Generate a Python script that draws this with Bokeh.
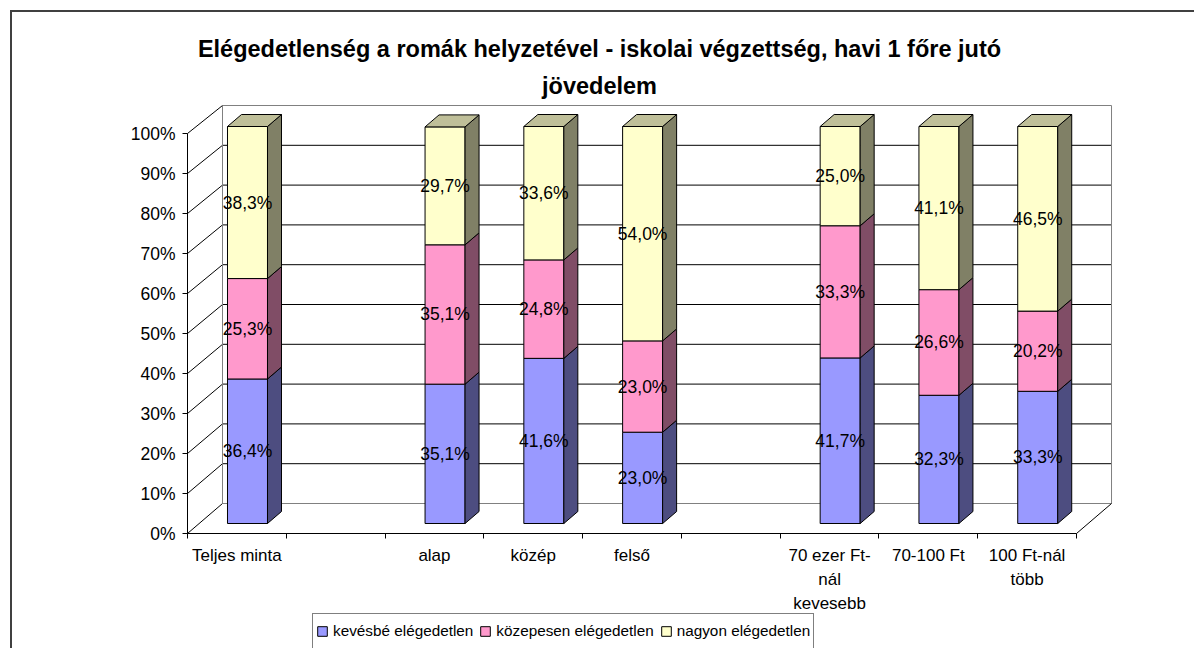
from bokeh.plotting import figure
from bokeh.models import (FixedTicker, Range1d, Legend, LegendItem, Label, LinearAxis)
from bokeh.core.properties import value
from bokeh.embed import file_html
from bokeh.resources import INLINE

# ---------------- data ----------------
title_lines = ["Elégedetlenség a romák helyzetével - iskolai végzettség, havi 1 főre jutó",
               "jövedelem"]
slot_labels = ["Teljes minta", "", "alap", "közép", "felső", "",
               "70 ezer Ft-\nnál\nkevesebb", "70-100 Ft", "100 Ft-nál\ntöbb"]
bar_slots = [0, 2, 3, 4, 6, 7, 8]
kevesbe = [36.4, 35.1, 41.6, 23.0, 41.7, 32.3, 33.3]
kozepesen = [25.3, 35.1, 24.8, 23.0, 33.3, 26.6, 20.2]
nagyon = [38.3, 29.7, 33.6, 54.0, 25.0, 41.1, 46.5]
series_names = ["kevésbé elégedetlen", "közepesen elégedetlen", "nagyon elégedetlen"]
front_colors = ["#9999FF", "#FF99CC", "#FFFFCC"]
side_colors = ["#4D4D80", "#804D66", "#808066"]
top_colors = ["#7373BF", "#BF7399", "#BFBF99"]
y_ticks = list(range(0, 101, 10))

# ---------------- layout ----------------
W, H = 1194, 648
ORIGIN_X, ORIGIN_Y = 187, 533          # canvas pixel of (0, 0%)
PX_X, PX_Y = 98.78, 4.0                # pixels per category slot / per percent

wall_dx, wall_dy, wall_k = 35 / PX_X, 30 / PX_Y, 0.995
bar_off_x, bar_off_y, bar_k = 10.6 / PX_X, 10 / PX_Y, 0.9925
bar_w, dep_x, dep_y = 40 / PX_X, 14 / PX_X, 12 / PX_Y
FONT = "Liberation Sans"

border_css = ("linear-gradient(#404040, #404040) 10px 10px / 1184px 2px no-repeat, "
              "linear-gradient(#404040, #404040) 10px 10px / 2px 638px no-repeat, #ffffff")

p = figure(width=W, height=H, output_backend="svg", toolbar_location=None,
           x_range=Range1d(-ORIGIN_X / PX_X, (W - ORIGIN_X) / PX_X),
           y_range=Range1d(-(H - ORIGIN_Y) / PX_Y, ORIGIN_Y / PX_Y),
           x_axis_type=None, y_axis_type=None,
           min_border_left=0, min_border_right=0, min_border_top=0, min_border_bottom=0,
           styles={"background": border_css})
p.outline_line_color = None
p.background_fill_alpha = 0
p.border_fill_alpha = 0

n = len(slot_labels)

# walls / gridlines
grid_y = [wall_dy + wall_k * t for t in y_ticks]
grid_col = ["#808080" if t in (0, 100) else "black" for t in y_ticks]
p.segment(x0=[wall_dx] * len(y_ticks), y0=grid_y, x1=[n + wall_dx] * len(y_ticks), y1=grid_y,
          line_color=grid_col, line_width=1)
p.segment(x0=[0] * len(y_ticks), y0=y_ticks, x1=[wall_dx] * len(y_ticks), y1=grid_y,
          line_color="black", line_width=1)
p.segment(x0=[wall_dx, n + wall_dx, n], y0=[wall_dy, wall_dy, 0],
          x1=[wall_dx, n + wall_dx, n + wall_dx], y1=[grid_y[-1], grid_y[-1], wall_dy],
          line_color=["#808080", "#808080", "black"], line_width=1)

# bars
series = [kevesbe, kozepesen, nagyon]
cum = [0.0] * len(bar_slots)
legend_items = []
lab_x, lab_y, lab_t = [], [], []
for k, vals in enumerate(series):
    L = [s + 0.5 + bar_off_x - bar_w / 2 for s in bar_slots]
    R = [l + bar_w for l in L]
    B = [bar_off_y + bar_k * c for c in cum]
    T = [bar_off_y + bar_k * (c + v) for c, v in zip(cum, vals)]
    fr = p.quad(left=L, right=R, bottom=B, top=T, fill_color=front_colors[k],
                line_color="black", line_width=1)
    p.patches(xs=[[r, r + dep_x, r + dep_x, r] for r in R],
              ys=[[b, b + dep_y, t + dep_y, t] for b, t in zip(B, T)],
              fill_color=side_colors[k], line_color="black", line_width=1)
    if k == len(series) - 1:
        p.patches(xs=[[l, r, r + dep_x, l + dep_x] for l, r in zip(L, R)],
                  ys=[[t, t, t + dep_y, t + dep_y] for t in T],
                  fill_color=top_colors[k], line_color="black", line_width=1)
    legend_items.append(LegendItem(label=series_names[k], renderers=[fr]))
    for l, r, b, t, v in zip(L, R, B, T, vals):
        lab_x.append((l + r) / 2)
        lab_y.append((b + t) / 2)
        lab_t.append(f"{v:.1f}%".replace(".", ","))
    cum = [c + v for c, v in zip(cum, vals)]

p.text(x=lab_x, y=lab_y, text=lab_t, text_align="center", text_baseline="middle",
       text_font=value(FONT), text_font_size=value("17.5px"), text_color="black")

# axes (drawn at the front edge of the 3-D box)
yaxis = LinearAxis(ticker=FixedTicker(ticks=y_ticks, minor_ticks=[]),
                   major_label_overrides={t: f"{t}%" for t in y_ticks},
                   fixed_location=0, bounds=(0, 100), major_tick_out=5, major_tick_in=0,
                   minor_tick_out=0, minor_tick_in=0, major_label_standoff=7,
                   axis_line_color="black", major_tick_line_color="black",
                   major_label_text_font=FONT, major_label_text_font_size="17.5px",
                   major_label_text_color="black")
p.add_layout(yaxis, "left")

centers = [i + 0.5 for i in range(n)]
xaxis = LinearAxis(ticker=FixedTicker(ticks=centers, minor_ticks=list(range(n + 1))),
                   major_label_overrides={c: lbl for c, lbl in zip(centers, slot_labels)},
                   fixed_location=0, bounds=(0, n), major_tick_out=0, major_tick_in=0,
                   minor_tick_out=5, minor_tick_in=0, major_label_standoff=7,
                   axis_line_color="black", minor_tick_line_color="black",
                   major_label_text_font=FONT, major_label_text_font_size="17px",
                   major_label_text_color="black", major_label_text_line_height=1.28)
p.add_layout(xaxis, "below")

# title
for txt, py in zip(title_lines, [48, 85]):
    p.add_layout(Label(x=(599 - ORIGIN_X) / PX_X, y=(ORIGIN_Y - py) / PX_Y, text=txt,
                       text_align="center", text_baseline="alphabetic",
                       text_font=FONT, text_font_style="bold", text_font_size="23.5px",
                       text_color="black"))

# legend (bottom, partly cut by the page edge as in the original)
legend = Legend(items=legend_items, orientation="horizontal", location=(312, -1),
                label_text_font=FONT, label_text_font_size="15.3px", label_text_color="black",
                glyph_width=12, glyph_height=12, label_standoff=5, spacing=6,
                padding=3, margin=0, label_height=28,
                border_line_color="black", border_line_width=1,
                background_fill_color="white", background_fill_alpha=1)
p.add_layout(legend)

open("out.html", "w").write(file_html(p, INLINE))
